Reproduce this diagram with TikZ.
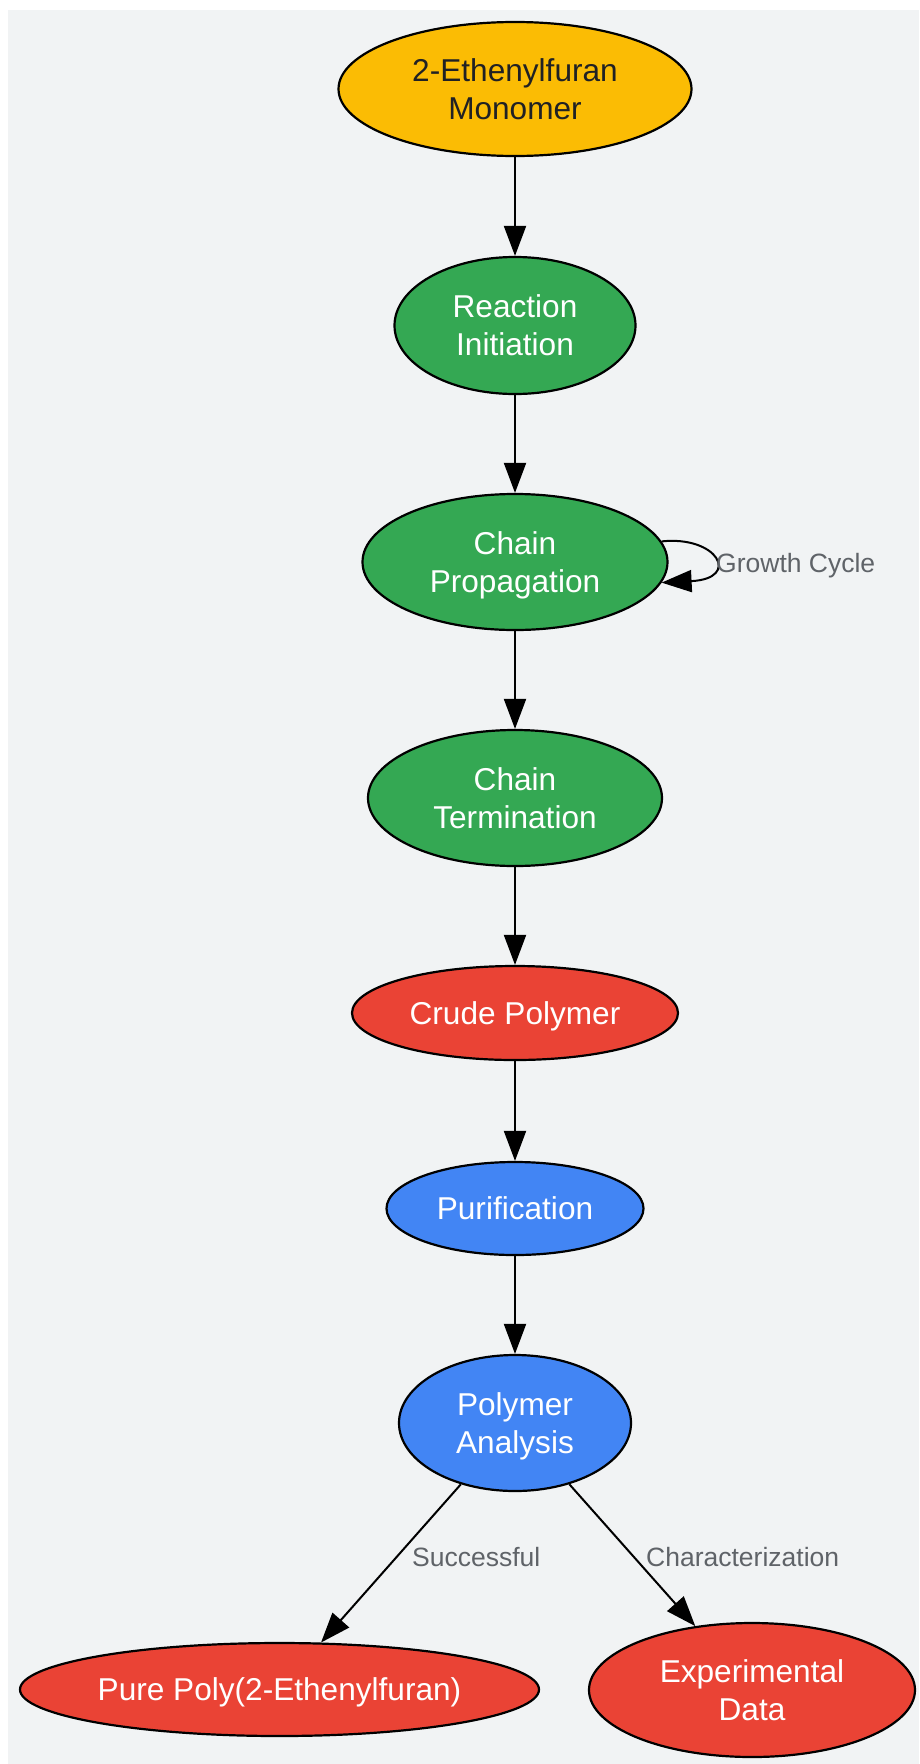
\documentclass[tikz,border=0pt]{standalone}
\usepackage{fontspec}
\setmainfont{Liberation Sans}
\usetikzlibrary{arrows.meta,shapes.geometric}
\definecolor{bgc}{HTML}{F1F3F4}
\definecolor{cyel}{HTML}{FBBC04}
\definecolor{cgrn}{HTML}{34A853}
\definecolor{cred}{HTML}{EA4335}
\definecolor{cblu}{HTML}{4285F4}
\definecolor{clbl}{HTML}{5F6368}
\definecolor{cdark}{HTML}{202124}
\begin{document}
\begin{tikzpicture}[x=1pt,y=-1pt,
  elli/.style={ellipse, draw=black, line width=2.2pt, inner sep=0pt, align=center,
    text depth=0pt, text=white, font=\fontsize{31.6}{38}\selectfont},
  lbl/.style={inner sep=0pt, text=clbl, font=\fontsize{26.5}{32}\selectfont},
  arr/.style={line width=2pt, draw=black, -{Triangle[length=30pt,width=22pt]}}
]
\useasboundingbox (0,0) rectangle (919,1764);
\fill[bgc] (8,10) rectangle (919,1764);

\node[elli, fill=cyel, text=cdark, minimum width=353pt, minimum height=134pt] (mono) at (515,89) {2-Ethenylfuran\\Monomer};
\node[elli, fill=cgrn, minimum width=241pt, minimum height=137pt] (ri) at (515,325.5) {Reaction\\Initiation};
\node[elli, fill=cgrn, minimum width=305pt, minimum height=136pt] (cp) at (515,562) {Chain\\Propagation};
\node[elli, fill=cgrn, minimum width=294pt, minimum height=136pt] (ct) at (515,798) {Chain\\Termination};
\node[elli, fill=cred, minimum width=326pt, minimum height=94pt] (crude) at (515,1013) {Crude Polymer};
\node[elli, fill=cblu, minimum width=257pt, minimum height=93pt] (pur) at (515,1208.5) {Purification};
\node[elli, fill=cblu, minimum width=232pt, minimum height=136pt] (pa) at (515,1423) {Polymer\\Analysis};
\node[elli, fill=cred, minimum width=519pt, minimum height=93pt] (pp) at (279.5,1689.5) {Pure Poly(2-Ethenylfuran)};
\node[elli, fill=cred, minimum width=326pt, minimum height=134pt] (ed) at (752,1690) {Experimental\\Data};

\draw[arr] (mono) -- (ri);
\draw[arr] (ri) -- (cp);
\draw[arr] (cp.8) .. controls +(56,-6) and +(80,-4) .. (cp.-8);
\draw[arr] (cp) -- (ct);
\draw[arr] (ct) -- (crude);
\draw[arr] (crude) -- (pur);
\draw[arr] (pur) -- (pa);
\draw[arr] (pa) -- (pp);
\draw[arr] (pa) -- (ed);

\node[lbl, anchor=base west] (lg) at (716,572.7) {Growth Cycle};
\node[lbl, anchor=base west] (ls) at (412,1566.7) {Successful};
\node[lbl, anchor=base west] (lc) at (646,1566.7) {Characterization};
\end{tikzpicture}
\end{document}
